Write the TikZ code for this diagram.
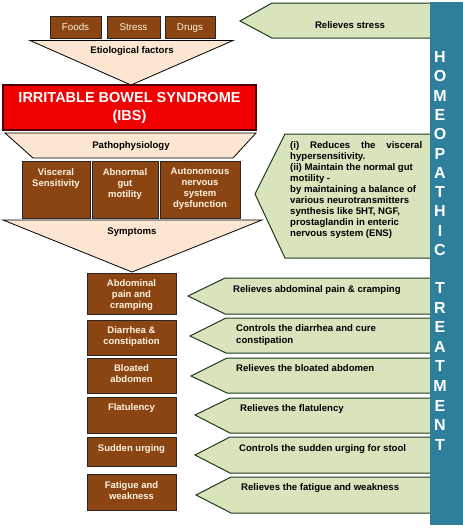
\documentclass[tikz,border=0pt]{standalone}
\usepackage{fontspec}
\setmainfont{Liberation Sans}
\definecolor{brownc}{HTML}{8B4513}
\definecolor{cream}{HTML}{FFF3E0}
\definecolor{peach}{HTML}{FCE6D2}
\definecolor{greenf}{HTML}{D8E4BC}
\definecolor{greenb}{HTML}{1E3A1E}
\definecolor{barc}{HTML}{2E7F9C}
\definecolor{ibsred}{HTML}{F00000}
\tikzset{
  brownbox/.style={draw=black!85, line width=0.9pt, fill=brownc},
  boxtext/.style={text=cream, font=\bfseries\fontsize{9.5}{11}\selectfont, align=center, anchor=north, inner sep=0pt},
  funnel/.style={draw=black, line width=0.8pt, fill=peach},
  funtext/.style={font=\bfseries\fontsize{9.6}{10}\selectfont, inner sep=0pt},
  arrowbox/.style={draw=greenb, line width=1pt, fill=greenf},
  arrtext/.style={font=\bfseries\fontsize{9.6}{12}\selectfont, anchor=base west, inner sep=0pt, align=left},
  barletter/.style={text=white, font=\bfseries\fontsize{16}{16}\selectfont, inner sep=0pt},
  toptext/.style={text=cream, font=\fontsize{9.8}{10}\selectfont, inner sep=0pt},
}
\begin{document}
\begin{tikzpicture}[x=1pt,y=-1pt]
\useasboundingbox (0,0) rectangle (463,528);
\fill[white] (0,0) rectangle (463,528);

% green arrows (pointing left)
\path[arrowbox] (440,3) -- (272,3) -- (240,21) -- (272,38) -- (440,38) -- cycle;
\node[funtext, anchor=base] (t0) at (350,28.5) {Relieves stress};

\path[arrowbox] (440,134) -- (285,134) -- (255,194) -- (285,258) -- (440,258) -- cycle;
\node[font=\bfseries\fontsize{9.6}{11}\selectfont, anchor=north west, inner sep=0pt, align=left] (tbig) at (290,141)
 {\makebox[132pt][s]{(i) Reduces the visceral}\\
  hypersensitivity.\\
  (ii) Maintain the normal gut\\
  motility -\\
  by maintaining a balance of\\
  various neurotransmitters\\
  synthesis like 5HT, NGF,\\
  prostaglandin in enteric\\
  nervous system (ENS)};

\path[arrowbox] (440,278) -- (225,278) -- (188,296) -- (225,314) -- (440,314) -- cycle;
\node[arrtext] (t1) at (233,292.5) {Relieves abdominal pain \& cramping};
\path[arrowbox] (440,318) -- (226,318) -- (190,336) -- (226,353) -- (440,353) -- cycle;
\node[arrtext, anchor=north west] (t2) at (236,324.5) {Controls the diarrhea and cure\\constipation};
\path[arrowbox] (440,358) -- (227,358) -- (191,376) -- (227,393) -- (440,393) -- cycle;
\node[arrtext] (t3) at (236,371.5) {Relieves the bloated abdomen};
\path[arrowbox] (440,398) -- (230,398) -- (195,415) -- (230,433) -- (440,433) -- cycle;
\node[arrtext] (t4) at (240,411.5) {Relieves the flatulency};
\path[arrowbox] (440,437) -- (230,437) -- (195,455) -- (230,473) -- (440,473) -- cycle;
\node[arrtext] (t5) at (239,451.5) {Controls the sudden urging for stool};
\path[arrowbox] (440,477) -- (231,477) -- (196,495) -- (231,513) -- (440,513) -- cycle;
\node[arrtext] (t6) at (241,490.5) {Relieves the fatigue and weakness};

% blue bar
\fill[barc] (430,2) rectangle (463,525);
\foreach \l/\y [count=\i] in {H/57,O/76.3,M/95.6,E/114.9,O/134.2,P/153.5,A/172.8,T/192.1,H/211.4,I/230.7,C/250,
  T/288,R/307.6,E/327.2,A/346.8,T/366.4,M/386,E/405.6,N/425.2,T/444.8}
  \node[barletter] (L\i) at (440,\y) {\l};

% etiological factors
\path[brownbox] (50,16) rectangle (101,38);
\node[toptext] (foods) at (75.5,27) {Foods};
\path[brownbox] (107,16) rectangle (160,38);
\node[toptext] (stress) at (133.5,27) {Stress};
\path[brownbox] (165,16) rectangle (215,38);
\node[toptext] (drugs) at (190,28) {Drugs};

\path[funnel] (30,40.5) -- (233,40.5) -- (131,85) -- cycle;
\node[funtext] (etio) at (132,51) {Etiological factors};

% IBS
\path[draw=black!70!red, line width=1.2pt, fill=ibsred] (3,85) rectangle (256,130);
\node[text=white, font=\bfseries\fontsize{14.5}{18}\selectfont, align=center, inner sep=0pt] (ibs) at (129.5,108)
 {IRRITABLE BOWEL SYNDROME\\(IBS)};

% pathophysiology
\path[funnel] (5,133) -- (256,133) -- (233,158) -- (33,158) -- cycle;
\node[funtext] (patho) at (131,146) {Pathophysiology};

\path[brownbox] (22,161) rectangle (90,218);
\node[boxtext] (vis) at (56,168) {Visceral\\Sensitivity};
\path[brownbox] (92,161) rectangle (158,218);
\node[boxtext] (abn) at (125,168) {Abnormal\\gut\\motility};
\path[brownbox] (160,161) rectangle (240,218);
\node[boxtext] (ans) at (200,168) {Autonomous\\nervous\\system\\dysfunction};

% symptoms
\path[funnel] (3,220) -- (262,220) -- (132,272) -- cycle;
\node[funtext] (symp) at (132,232) {Symptoms};

\path[brownbox] (87,273) rectangle (176,314);
\node[boxtext] (s1) at (131.5,279) {Abdominal\\pain and\\cramping};
\path[brownbox] (87,320) rectangle (176,355);
\node[boxtext] (s2) at (131.5,326) {Diarrhea \&\\constipation};
\path[brownbox] (87,358) rectangle (176,393);
\node[boxtext] (s3) at (131.5,364) {Bloated\\abdomen};
\path[brownbox] (87,397) rectangle (176,433);
\node[boxtext] (s4) at (131.5,403.5) {Flatulency};
\path[brownbox] (87,437) rectangle (176,466);
\node[boxtext] (s5) at (131.5,444) {Sudden urging};
\path[brownbox] (87,474) rectangle (176,510);
\node[boxtext] (s6) at (131.5,481) {Fatigue and\\weakness};
\end{tikzpicture}
\end{document}
